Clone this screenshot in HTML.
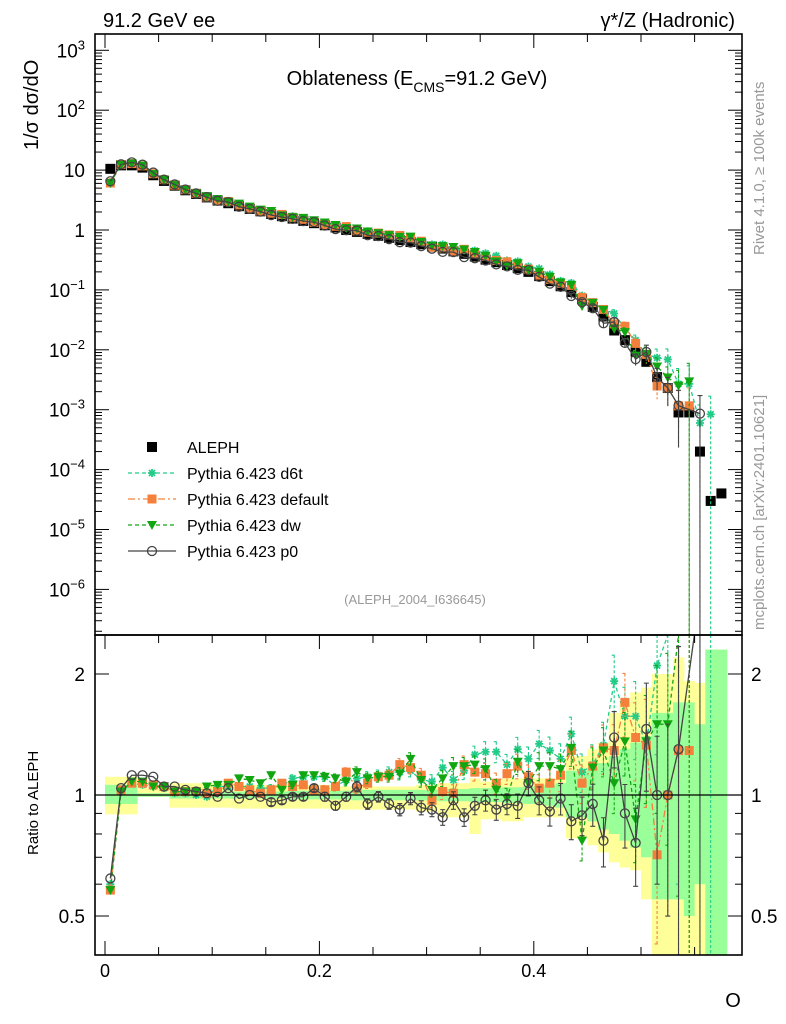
<!DOCTYPE html>
<html><head><meta charset="utf-8">
<style>
html,body{margin:0;padding:0;background:#fff;width:786px;height:1024px;overflow:hidden;}
svg{display:block;font-family:"Liberation Sans",sans-serif;}
</style></head>
<body>
<svg id="chart" width="786" height="1024" viewBox="0 0 786 1024" xmlns="http://www.w3.org/2000/svg">
<defs>
<clipPath id="clipMain"><rect x="95" y="34" width="647" height="601"/></clipPath>
<clipPath id="clipRatio"><rect x="95" y="635" width="647" height="320"/></clipPath>
</defs>
<g id="bands" clip-path="url(#clipRatio)"></g>
<g id="mainMarks" clip-path="url(#clipMain)"></g>
<g id="ratioMarks" clip-path="url(#clipRatio)"></g>
<g id="axes"></g>
<text x="103" y="27" font-size="20">91.2 GeV ee</text>
<text x="735" y="27" font-size="20" text-anchor="end">γ*/Z (Hadronic)</text>
<text x="417" y="85" font-size="20" text-anchor="middle">Oblateness (E<tspan font-size="14" dy="7">CMS</tspan><tspan dy="-7">=91.2 GeV)</tspan></text>
<text transform="translate(38,150) rotate(-90)" font-size="20">1/σ  dσ/dO</text>
<text transform="translate(38,855) rotate(-90)" font-size="15">Ratio to ALEPH</text>
<text x="733" y="1007" font-size="20" text-anchor="middle">O</text>
<text transform="translate(764,255) rotate(-90)" font-size="15" fill="#999">Rivet 4.1.0, ≥ 100k events</text>
<text transform="translate(764,630) rotate(-90)" font-size="15" fill="#999">mcplots.cern.ch [arXiv:2401.10621]</text>
<text x="415" y="604" font-size="13" fill="#999" text-anchor="middle">(ALEPH_2004_I636645)</text>
<g id="legend"></g>
</svg>
<script>
const binCenters=[0.005,0.015,0.025,0.035,0.045,0.055,0.065,0.075,0.085,0.095,0.105,0.115,0.125,0.135,0.145,0.155,0.165,0.175,0.185,0.195,0.205,0.215,0.225,0.235,0.245,0.255,0.265,0.275,0.285,0.295,0.305,0.315,0.325,0.335,0.345,0.355,0.365,0.375,0.385,0.395,0.405,0.415,0.425,0.435,0.445,0.455,0.465,0.475,0.485,0.495,0.505,0.515,0.525,0.535,0.545,0.555,0.565,0.575];
const alephValues=[10.5,12,12,11,8.2,6.6,5.5,4.6,4.0,3.5,3.1,2.8,2.5,2.25,2.05,1.85,1.7,1.55,1.42,1.3,1.2,1.1,1.0,0.93,0.86,0.8,0.74,0.68,0.63,0.58,0.53,0.49,0.44,0.40,0.36,0.32,0.29,0.26,0.23,0.2,0.17,0.14,0.115,0.092,0.07,0.052,0.036,0.021,0.0145,0.0092,0.0063,0.0035,0.0023,0.0009,0.0009,0.0002,0.00003,0.00004];
const ratioD6t=[0.6,1.02,1.07,1.06,1.05,1.04,1.01,1.01,1.0,0.99,1.05,1.05,1.05,1.05,1.04,1.04,1.05,1.1,1.11,1.11,1.11,1.05,1.09,1.1,1.11,1.12,1.14,1.14,1.15,1.09,1.08,1.17,1.09,1.15,1.26,1.28,1.28,1.19,1.3,1.23,1.34,1.29,1.23,1.42,1.14,1.19,1.33,1.92,1.57,1.57,1.33,2.1,3,3,3,3,28,null];
const ratioDefault=[0.58,1.03,1.07,1.07,1.06,1.05,1.02,1.02,1.02,1.01,1.02,1.07,1.05,1.03,1.01,1.03,1.07,1.05,1.06,1.03,1.03,1.05,1.14,1.04,1.07,1.11,1.12,1.19,1.17,1.12,0.97,1.02,1.01,1.19,1.14,1.13,1.07,1.13,1.18,1.11,1.04,1.07,1.12,1.29,1.07,1.18,1.31,1.29,1.7,1.39,1.33,0.71,1.0,1.29,1.29,null,null,null];
const ratioDw=[0.58,1.02,1.08,1.08,1.05,1.05,1.02,1.02,1.02,1.05,1.06,1.06,1.1,1.09,1.07,1.12,1.03,1.06,1.12,1.12,1.11,1.1,1.08,1.14,1.1,1.11,1.11,1.13,1.23,1.09,1.03,1.1,1.18,1.18,1.19,1.16,1.03,0.98,1.21,1.07,1.18,1.18,1.16,1.31,0.77,1.17,1.29,1.07,1.36,0.87,1.36,1.5,1.5,2.8,3.3,null,null,null];
const ratioP0=[0.62,1.04,1.12,1.12,1.11,1.05,1.05,1.03,1.02,1.01,0.99,1.04,0.98,1.0,0.99,0.96,0.97,0.99,0.99,1.04,0.99,0.94,0.99,1.05,0.95,0.99,0.95,0.92,0.98,0.93,0.92,0.88,0.97,0.88,0.94,0.97,0.92,0.95,0.94,1.07,0.97,0.91,0.98,0.86,0.89,0.95,0.77,1.39,0.9,0.76,1.46,1.0,1.0,1.3,null,4.3,null,null];
const mcRelErr=[0.01,0.01,0.01,0.01,0.01,0.01,0.01,0.01,0.01,0.01,0.01,0.015,0.015,0.015,0.015,0.02,0.02,0.02,0.02,0.02,0.025,0.025,0.025,0.03,0.03,0.03,0.03,0.035,0.035,0.04,0.04,0.045,0.05,0.05,0.05,0.06,0.06,0.06,0.07,0.07,0.08,0.08,0.09,0.1,0.11,0.12,0.14,0.16,0.18,0.22,0.3,0.4,0.5,0.8,1,1,1,1];
const yellowUp=[1.11,1.11,1.11,1.04,1.04,1.04,1.07,1.07,1.07,1.07,1.07,1.07,1.06,1.06,1.06,1.06,1.06,1.06,1.06,1.06,1.06,1.05,1.05,1.05,1.05,1.05,1.05,1.05,1.05,1.06,1.06,1.07,1.07,1.07,1.1,1.08,1.08,1.1,1.1,1.1,1.1,1.1,1.12,1.25,1.25,1.3,1.35,1.6,1.7,1.8,1.85,2.0,2.0,2.2,1.92,1.9,2.3,2.3];
const yellowDn=[0.895,0.895,0.895,0.99,0.99,0.99,0.93,0.93,0.93,0.93,0.93,0.93,0.925,0.925,0.925,0.925,0.925,0.925,0.925,0.925,0.925,0.92,0.92,0.92,0.92,0.92,0.92,0.92,0.92,0.91,0.91,0.88,0.88,0.88,0.8,0.87,0.87,0.86,0.86,0.88,0.88,0.88,0.88,0.78,0.78,0.75,0.72,0.68,0.66,0.65,0.55,0.3,0.3,0.3,0.3,0.3,0.3,0.3];
const greenUp=[1.06,1.06,1.06,1.01,1.01,1.01,1.02,1.02,1.02,1.02,1.02,1.02,1.02,1.02,1.02,1.02,1.02,1.025,1.025,1.025,1.025,1.025,1.025,1.03,1.03,1.03,1.03,1.03,1.03,1.03,1.03,1.035,1.035,1.035,1.04,1.04,1.04,1.045,1.045,1.05,1.05,1.06,1.07,1.15,1.15,1.17,1.2,1.25,1.3,1.35,1.4,1.6,1.6,1.7,1.7,1.5,2.3,2.3];
const greenDn=[0.95,0.95,0.95,0.99,0.99,0.99,0.98,0.98,0.98,0.98,0.98,0.98,0.98,0.98,0.98,0.98,0.98,0.975,0.975,0.975,0.975,0.975,0.975,0.97,0.97,0.97,0.97,0.97,0.97,0.97,0.97,0.965,0.965,0.965,0.96,0.96,0.96,0.955,0.955,0.95,0.95,0.94,0.93,0.88,0.88,0.86,0.82,0.8,0.77,0.74,0.7,0.55,0.55,0.55,0.5,0.6,0.3,0.3];
const xTickLabels=["0","0.2","0.4"];
const xTickValues=[0,0.2,0.4];
const mainTickExp=[3,2,1,0,-1,-2,-3,-4,-5,-6];
const ratioTickValues=[2,1,0.5];
const ratioTickLabels=["2","1","0.5"];

const NS="http://www.w3.org/2000/svg";
const L=95,R=742,MT=34,MB=635,RB=955,BW=0.01;
function X(v){return 105+v*1072;}
function clampM(y){return Math.max(MT,Math.min(MB,y));}
function clampR(y){return Math.max(MB,Math.min(RB,y));}
function YM(v){return clampM(230-59.9*Math.log10(v));}
function YR(r){return clampR(795-402*Math.log10(r));}
function mk(tag,attrs,parent){const e=document.createElementNS(NS,tag);for(const k in attrs)e.setAttribute(k,attrs[k]);parent.appendChild(e);return e;}
const bands=document.getElementById('bands'),mainG=document.getElementById('mainMarks'),ratioG=document.getElementById('ratioMarks'),axes=document.getElementById('axes'),legend=document.getElementById('legend');

binCenters.forEach((c,i)=>{
  const y=mk('rect',{x:X(c-BW/2),y:YR(yellowUp[i]),width:X(c+BW/2)-X(c-BW/2)+0.5,height:YR(yellowDn[i])-YR(yellowUp[i]),fill:'#ffff99'},bands);
  
  
  const g=mk('rect',{x:X(c-BW/2),y:YR(greenUp[i]),width:X(c+BW/2)-X(c-BW/2)+0.5,height:YR(greenDn[i])-YR(greenUp[i]),fill:'#99ff99'},bands);
  
  
});
const one=mk('line',{x1:L,x2:R,y1:YR(1),y2:YR(1),stroke:'#000','stroke-width':1.3},axes);



function marker(type,x,y,color,parent,name){
  let e;
  if(type==='square'){e=mk('rect',{x:x-5,y:y-5,width:10,height:10,fill:color},parent);}
  else if(type==='osquare'){e=mk('rect',{x:x-4.5,y:y-4.5,width:9,height:9,fill:color},parent);}
  else if(type==='tri'){e=mk('path',{d:`M${x-5},${y-4}L${x+5},${y-4}L${x},${y+5}Z`,fill:color},parent);}
  else if(type==='star'){e=mk('path',{d:`M${x-4},${y}L${x+4},${y}M${x},${y-4}L${x},${y+4}M${x-3},${y-3}L${x+3},${y+3}M${x-3},${y+3}L${x+3},${y-3}`,stroke:color,'stroke-width':1.8},parent);}
  else {e=mk('circle',{cx:x,cy:y,r:4.5,fill:'none',stroke:color,'stroke-width':1.3},parent);}
  
  
}
const series=[
 {name:'d6t',ratio:ratioD6t,color:'#22cc88',dash:'4,3',m:'star'},
 {name:'default',ratio:ratioDefault,color:'#f4803c',dash:'7,3,2,3',m:'osquare'},
 {name:'dw',ratio:ratioDw,color:'#11a611',dash:'4,3',m:'tri'},
 {name:'p0',ratio:ratioP0,color:'#444',dash:'',m:'circle'}
];
binCenters.forEach((c,i)=>{marker('square',X(c),YM(alephValues[i]),'#000',mainG,'aleph-point');});
series.forEach(s=>{
  let dm='',dr='';
  binCenters.forEach((c,i)=>{
    const r=s.ratio[i]; if(r==null) return;
    const v=alephValues[i]*r;
    dm+=(dm?'L':'M')+X(c)+','+YM(v);
    dr+=(dr?'L':'M')+X(c)+','+(795-402*Math.log10(r) < MB-40 ? MB-40 : YR(r));
  });
  const lm=mk('path',{d:dm,fill:'none',stroke:s.color,'stroke-width':1.3,'stroke-dasharray':s.dash},mainG);
  
  
  const lr=mk('path',{d:dr,fill:'none',stroke:s.color,'stroke-width':1.3,'stroke-dasharray':s.dash},ratioG);
  
  
  binCenters.forEach((c,i)=>{
    const r=s.ratio[i]; if(r==null) return;
    const v=alephValues[i]*r, e=mcRelErr[i];
    if(e>=0.02){
      const lo=Math.max(r*(1-e),0.01);
      const eb=mk('path',{d:`M${X(c)},${YR(r*(1+e))}L${X(c)},${YR(lo)}M${X(c)-2.5},${YR(r*(1+e))}L${X(c)+2.5},${YR(r*(1+e))}M${X(c)-2.5},${YR(lo)}L${X(c)+2.5},${YR(lo)}`,stroke:s.color,'stroke-width':1.1,'stroke-dasharray':s.dash?'3,2':''},ratioG);
      
      
      if(e>=0.1){
        const lo2=Math.max(v*(1-e),1e-9);
        const ebm=mk('path',{d:`M${X(c)},${YM(v*(1+e))}L${X(c)},${YM(lo2)}M${X(c)-2.5},${YM(v*(1+e))}L${X(c)+2.5},${YM(v*(1+e))}`,stroke:s.color,'stroke-width':1.1,'stroke-dasharray':s.dash?'3,2':''},mainG);
        
        
      }
    }
    const yr=795-402*Math.log10(r);
    marker(s.m,X(c),YM(v),s.color,mainG,'point-'+s.name);
    if(yr>=MB-6&&yr<=RB+6) marker(s.m,X(c),yr,s.color,ratioG,'ratio-point-'+s.name);
  });
});

[[MT,MB],[MB,RB]].forEach((p,k)=>{
  const f=mk('rect',{x:L,y:p[0],width:R-L,height:p[1]-p[0],fill:'none',stroke:'#000','stroke-width':1.6},axes);
  
  
});
for(let v=0;v<=0.58;v+=0.05){
  const major=Math.abs(v*10-Math.round(v*10))<1e-6&&Math.round(v*10)%2===0;
  const len=major?14:8;
  [MT,MB].forEach(y=>{const t=mk('line',{x1:X(v),x2:X(v),y1:y,y2:y+len,stroke:'#000','stroke-width':1},axes);});
  const t2=mk('line',{x1:X(v),x2:X(v),y1:RB,y2:RB-len,stroke:'#000','stroke-width':1},axes);
  
  
}
xTickValues.forEach((v,i)=>{
  const t=mk('text',{x:X(v),y:977,'font-size':18,'text-anchor':'middle'},axes);
  t.textContent=xTickLabels[i];
  
  
});
for(let ex=-7;ex<=3;ex++){
  for(let m=1;m<=9;m++){
    const v=m*Math.pow(10,ex), y=230-59.9*Math.log10(v);
    if(y<MT||y>MB) continue;
    const len=m===1?14:7;
    const a=mk('line',{x1:L,x2:L+len,y1:y,y2:y,stroke:'#000','stroke-width':1},axes);
    
    
    const b=mk('line',{x1:R,x2:R-len,y1:y,y2:y,stroke:'#000','stroke-width':1},axes);
    
    
  }
}
mainTickExp.forEach(ex=>{
  const y=YM(Math.pow(10,ex))+7;
  const t=mk('text',{x:85,y:y,'font-size':19,'text-anchor':'end'},axes);
  
  
  if(ex===0){t.textContent='1';}
  else if(ex===1){t.textContent='10';}
  else {t.textContent='10';const s=mk('tspan',{dy:-8,'font-size':13},t);s.textContent=String(ex).replace('-','−');}
});
[0.4,0.5,0.6,0.7,0.8,0.9,1,2].forEach(r=>{
  const y=795-402*Math.log10(r); if(y<MB||y>RB) return;
  const len=(r===1||r===2||r===0.5)?14:7;
  const a=mk('line',{x1:L,x2:L+len,y1:y,y2:y,stroke:'#000','stroke-width':1},axes);
  
  
  const b=mk('line',{x1:R,x2:R-len,y1:y,y2:y,stroke:'#000','stroke-width':1},axes);
  
  
});
ratioTickValues.forEach((r,i)=>{
  const y=YR(r)+7;
  const t=mk('text',{x:85,y:y,'font-size':19,'text-anchor':'end'},axes);
  t.textContent=ratioTickLabels[i];
  
  
  const t2=mk('text',{x:751,y:y,'font-size':19},axes);
  t2.textContent=ratioTickLabels[i];
  
  
});
const legItems=[{label:'ALEPH',m:'square',color:'#000',dash:null},
 {label:'Pythia 6.423 d6t',m:'star',color:'#22cc88',dash:'4,3'},
 {label:'Pythia 6.423 default',m:'osquare',color:'#f4803c',dash:'7,3,2,3'},
 {label:'Pythia 6.423 dw',m:'tri',color:'#11a611',dash:'4,3'},
 {label:'Pythia 6.423 p0',m:'circle',color:'#444',dash:''}];
legItems.forEach((it,i)=>{
  const y=447+i*26;
  const g=mk('g',{},legend);
  
  
  if(it.dash!==null){mk('line',{x1:128,x2:176,y1:y,y2:y,stroke:it.color,'stroke-width':1.3,'stroke-dasharray':it.dash},g);}
  marker(it.m,152,y,it.color,g,'legend-marker');
  const t=mk('text',{x:187,y:y+6,'font-size':16},g);
  t.textContent=it.label;
});
</script>
</body></html>
